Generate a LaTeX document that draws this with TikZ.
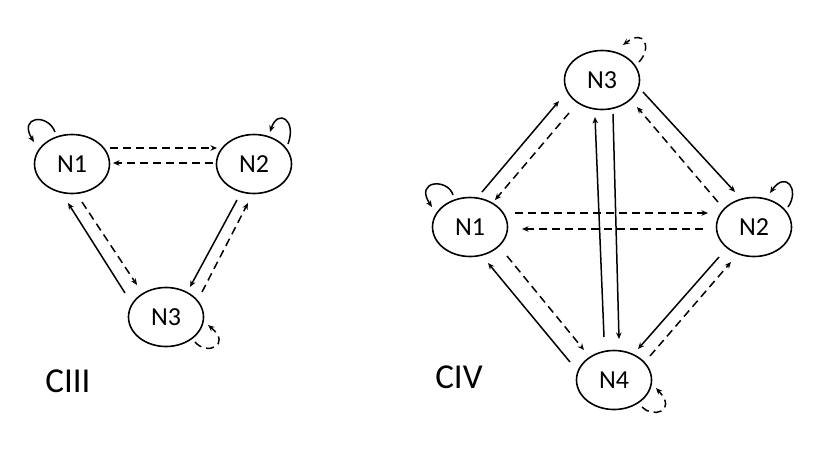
\documentclass[tikz,border=0pt]{standalone}
\usepackage{fontspec}
\setmainfont{Carlito}
\usetikzlibrary{shapes.geometric,arrows.meta}
\begin{document}
\begin{tikzpicture}[x=1pt,y=-1pt,
  st/.style={ellipse,draw,line width=1.6pt,minimum width=75pt,minimum height=59pt,inner sep=0pt,font=\fontsize{26}{28}\selectfont},
  lab/.style={font=\fontsize{35}{38}\selectfont,inner sep=0pt},
  sol/.style={line width=1.5pt,-{Stealth[length=6.5pt,width=5.5pt]}},
  dsh/.style={line width=1.5pt,dash pattern=on 8pt off 5pt,-{Stealth[length=6.5pt,width=5.5pt]}}]
\useasboundingbox (0,0) rectangle (830,467);
% CIII
\node[st] (a1) at (72,164) {N1};
\node[st] (a2) at (254,164) {N2};
\node[st] (a3) at (166,317) {N3};
\node[lab] (ac) at (68,381) {CIII};
\draw[dsh] ([shift={(38,-16)}]a1.center) -- ([shift={(-37,-16)}]a2.center);
\draw[dsh] ([shift={(-41,-1)}]a2.center) -- ([shift={(41,-1)}]a1.center);
\draw[sol] ([shift={(-41,-24)}]a3.center) -- ([shift={(-4,39)}]a1.center);
\draw[dsh] ([shift={(10,38)}]a1.center) -- ([shift={(-29,-32)}]a3.center);
\draw[sol] ([shift={(-17,36)}]a2.center) -- ([shift={(24,-30)}]a3.center);
\draw[dsh] ([shift={(36,-25)}]a3.center) -- ([shift={(-6,39)}]a2.center);
\draw[sol] ([shift={(-17,-32)}]a1.center) .. controls ([shift={(-24,-51)}]a1.center) and ([shift={(-54,-48)}]a1.center) .. ([shift={(-38,-22)}]a1.center);
\draw[sol] ([shift={(34,-20)}]a2.center) .. controls ([shift={(43,-44)}]a2.center) and ([shift={(24,-56)}]a2.center) .. ([shift={(16,-32)}]a2.center);
\draw[dsh] ([shift={(29,25)}]a3.center) .. controls ([shift={(41,39)}]a3.center) and ([shift={(66,28)}]a3.center) .. ([shift={(42,8)}]a3.center);
% CIV
\node[st] (b3) at (602,80) {N3};
\node[st] (b1) at (470,227) {N1};
\node[st] (b2) at (754,227) {N2};
\node[st] (b4) at (614,380) {N4};
\node[lab] (bc) at (459,377) {CIV};
\draw[sol] ([shift={(12,-35)}]b1.center) -- ([shift={(-43,21)}]b3.center);
\draw[dsh] ([shift={(-33,33)}]b3.center) -- ([shift={(25,-27)}]b1.center);
\draw[sol] ([shift={(41,12)}]b3.center) -- ([shift={(-19,-35)}]b2.center);
\draw[dsh] ([shift={(-36,-25)}]b2.center) -- ([shift={(35,27)}]b3.center);
\draw[dsh] ([shift={(45,-14)}]b1.center) -- ([shift={(-46,-14)}]b2.center);
\draw[dsh] ([shift={(-51,2)}]b2.center) -- ([shift={(52,2)}]b1.center);
\draw[sol] ([shift={(-10,-43)}]b4.center) -- ([shift={(-7,37)}]b3.center);
\draw[sol] ([shift={(11,34)}]b3.center) -- ([shift={(5,-41)}]b4.center);
\draw[sol] ([shift={(-44,-18)}]b4.center) -- ([shift={(18,36)}]b1.center);
\draw[dsh] ([shift={(37,29)}]b1.center) -- ([shift={(-30,-30)}]b4.center);
\draw[sol] ([shift={(-35,30)}]b2.center) -- ([shift={(24,-31)}]b4.center);
\draw[dsh] ([shift={(36,-24)}]b4.center) -- ([shift={(-23,35)}]b2.center);
\draw[dsh] ([shift={(37,-18)}]b3.center) .. controls ([shift={(50,-32)}]b3.center) and ([shift={(43,-52)}]b3.center) .. ([shift={(21,-35)}]b3.center);
\draw[sol] ([shift={(-17,-32)}]b1.center) .. controls ([shift={(-22,-49)}]b1.center) and ([shift={(-56,-47)}]b1.center) .. ([shift={(-38,-20)}]b1.center);
\draw[sol] ([shift={(34,-20)}]b2.center) .. controls ([shift={(46,-37)}]b2.center) and ([shift={(32,-57)}]b2.center) .. ([shift={(16,-34)}]b2.center);
\draw[dsh] ([shift={(28,27)}]b4.center) .. controls ([shift={(38,38)}]b4.center) and ([shift={(64,32)}]b4.center) .. ([shift={(42,8)}]b4.center);
\end{tikzpicture}
\end{document}
